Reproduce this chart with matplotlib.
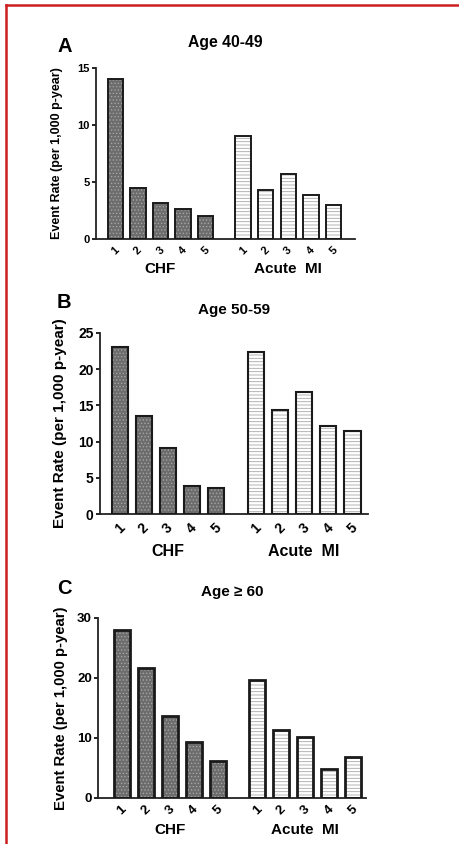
import numpy as np
import matplotlib
matplotlib.use("Agg")
import matplotlib.pyplot as plt
from matplotlib.lines import Line2D

plt.rcParams['font.family'] = ['Liberation Sans', 'DejaVu Sans']
plt.rcParams['font.weight'] = 'bold'
plt.rcParams['hatch.linewidth'] = 0.6

# data
categories = ['1', '2', '3', '4', '5']
groups = ['CHF', 'Acute  MI']
titles = ['Age 40-49', 'Age 50-59', 'Age \u2265 60']
panel_letters = ['A', 'B', 'C']

chf_40_49 = [14.0, 4.5, 3.2, 2.6, 2.05]
mi_40_49 = [9.0, 4.3, 5.7, 3.9, 3.0]
chf_50_59 = [23.0, 13.6, 9.15, 3.9, 3.6]
mi_50_59 = [22.4, 14.4, 16.8, 12.1, 11.4]
chf_60 = [28.0, 21.7, 13.7, 9.3, 6.1]
mi_60 = [19.7, 11.3, 10.1, 4.8, 6.9]

yticks_all = [[0, 5, 10, 15], [0, 5, 10, 15, 20, 25], [0, 10, 20, 30]]
ylims = [15, 25, 30]

W, H = 459, 844

# panel boxes in pixels: left, right, top, bottom
boxes = [(96, 355, 68, 239), (100, 368, 333, 514), (98, 366, 618, 798)]
xlims = [(-0.85, 10.6), (-0.82, 10.3), (-1.0, 10.2)]
mi_offset = 5.65
bar_w = 0.68

fig = plt.figure(figsize=(W / 100, H / 100), dpi=100)

# red frame (left + top)
fig.add_artist(Line2D([6 / W, 6 / W], [0, 1 - 5 / H], color='#cc1f1f', lw=1.8,
                      transform=fig.transFigure))
fig.add_artist(Line2D([6 / W, 1], [1 - 5 / H, 1 - 5 / H], color='#cc1f1f', lw=1.8,
                      transform=fig.transFigure))

panels = [(chf_40_49, mi_40_49), (chf_50_59, mi_50_59), (chf_60, mi_60)]
tick_fs = [8, 10, 9.5]
label_fs = [9, 11, 10.7]
title_fs = [11.3, 11, 11]
group_fs = [11, 11.5, 11]
title_off = [18, 16.5, 18.7]
group_off = [-21.6, -27, -23]
ylabel_x = [-0.129, -0.123, -0.112]
num_pad = [4, 5, 4]
letter_y = [47, 303, 588]
edge_lw = [1.4, 1.5, 2.0]

for i, (chf, mi) in enumerate(panels):
    l, r, t, b = boxes[i]
    ax = fig.add_axes([l / W, 1 - b / H, (r - l) / W, (b - t) / H])
    x_chf = np.arange(len(categories))
    x_mi = x_chf + mi_offset

    # fills with texture
    ax.bar(x_chf, chf, width=bar_w, color='#6c6c6c', edgecolor='#a4a4a4',
           hatch='.....', linewidth=0, zorder=2)
    ax.bar(x_mi, mi, width=bar_w, color='white', edgecolor='#a8a8a8',
           hatch='-----', linewidth=0, zorder=2)
    # outlines
    ax.bar(x_chf, chf, width=bar_w, fill=False, edgecolor='#1a1a1a',
           linewidth=edge_lw[i], zorder=3)
    ax.bar(x_mi, mi, width=bar_w, fill=False, edgecolor='#1a1a1a',
           linewidth=edge_lw[i], zorder=3)

    ax.set_xlim(*xlims[i])
    ax.set_ylim(0, ylims[i])
    ax.set_yticks(yticks_all[i])
    ax.set_yticklabels([str(v) for v in yticks_all[i]], fontsize=tick_fs[i],
                       fontweight='bold')
    ax.set_xticks(list(x_chf) + list(x_mi))
    ax.set_xticklabels(categories + categories, rotation=45, ha='center',
                       fontsize=tick_fs[i], fontweight='bold')
    ax.tick_params(axis='x', length=0, pad=num_pad[i])
    ax.tick_params(axis='y', length=3, width=1.2, pad=1.5)

    for side in ['top', 'right']:
        ax.spines[side].set_visible(False)
    for side in ['left', 'bottom']:
        ax.spines[side].set_linewidth(1.3)
        ax.spines[side].set_color('#222222')

    ax.set_ylabel('Event Rate (per 1,000 p-year)', fontsize=label_fs[i],
                  fontweight='bold')
    ax.yaxis.set_label_coords(ylabel_x[i], 0.5)

    ax.annotate(titles[i], xy=(0.5, 1), xycoords='axes fraction',
                xytext=(0, title_off[i]), textcoords='offset points',
                ha='center', va='center', fontsize=title_fs[i], fontweight='bold')

    for gx, name in zip([x_chf[2], x_mi[2]], groups):
        ax.annotate(name, xy=(gx, 0), xycoords=('data', 'axes fraction'),
                    xytext=(0, group_off[i]), textcoords='offset points',
                    ha='center', va='center', fontsize=group_fs[i],
                    fontweight='bold')

    fig.text(57 / W, 1 - letter_y[i] / H, panel_letters[i], fontsize=14.5,
             fontweight='bold', ha='left', va='center')

fig.savefig('out.png', dpi=100)
